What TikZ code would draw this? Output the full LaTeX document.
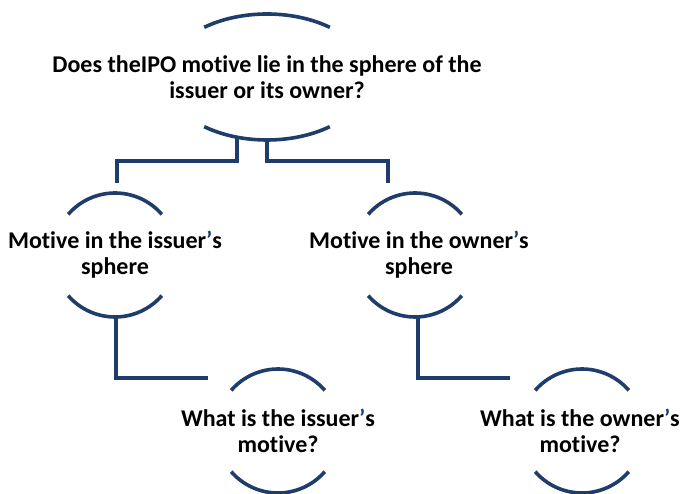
\documentclass[tikz,border=0pt]{standalone}
\usepackage{fontspec}
\setmainfont[Ligatures=NoCommon]{Carlito}
\usetikzlibrary{calc}
\definecolor{navy}{RGB}{31,61,107}
\newcommand{\apo}{\textcolor{navy}{’}}
\tikzset{
  lbl/.style={font=\bfseries\fontsize{24}{26}\selectfont, align=center, inner sep=0pt, text=black},
  rim/.style={draw=navy, line width=3.6pt},
  link/.style={draw=navy, line width=3.6pt, line join=miter}
}
\begin{document}
\begin{tikzpicture}[x=1pt,y=1pt]
\useasboundingbox (0,0) rectangle (682,494);
% nodes
\node[lbl] (top) at (267,417) {Does theIPO motive lie in the sphere of the\\issuer or its owner?};
\node[lbl] (iss) at (115,239) {Motive in the issuer\apo s\\sphere};
\node[lbl] (own) at (419,239) {Motive in the owner\apo s\\sphere};
\node[lbl] (qi) at (278,63) {What is the issuer\apo s\\motive?};
\node[lbl] (qo) at (580,63) {What is the owner\apo s\\motive?};
% rims
\draw[rim] ($(top.center)+(52:102 and 63)$) arc[start angle=52, end angle=128, x radius=102, y radius=63];
\draw[rim] ($(top.center)+(232:102 and 63)$) arc[start angle=232, end angle=308, x radius=102, y radius=63];
\foreach \n/\dx in {iss/0,own/-4,qi/0,qo/2}{
  \draw[rim] ($(\n.center)+(\dx,0)+(41:62)$) arc[start angle=41, end angle=139, radius=62];
  \draw[rim] ($(\n.center)+(\dx,0)+(221:62)$) arc[start angle=221, end angle=319, radius=62];
}
% connectors
\draw[link] ($(top.center)+(-30,-59)$) |- ($(iss.center)+(2,94)$) -- ($(iss.center)+(2,72)$);
\draw[link] ($(top.center)+(0,-62)$) |- ($(own.center)+(-31,94)$) -- ($(own.center)+(-31,72)$);
\draw[link] ($(iss.center)+(1,-61)$) |- ($(qi.center)+(-70,53)$);
\draw[link] ($(own.center)+(-1,-61)$) |- ($(qo.center)+(-70,53)$);
\end{tikzpicture}
\end{document}
